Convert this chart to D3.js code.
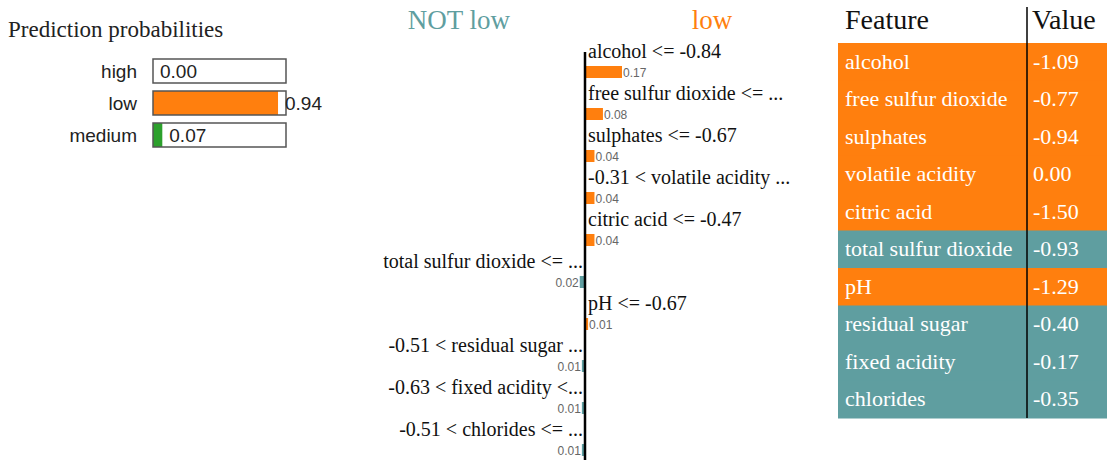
<!DOCTYPE html>
<html>
<head>
<meta charset="utf-8">
<script src="https://cdn.jsdelivr.net/npm/d3@7"></script>
<style>
  html, body { margin: 0; padding: 0; background: #fff; }
  svg { display: block; }
</style>
</head>
<body>
<svg id="chart" width="1109" height="462"></svg>
<script>
// ---- data ----
const classNames = ["high", "low", "medium"];
const classProbs = [0.00, 0.94, 0.07];
const classColors = ["#1f77b4", "#ff7f0e", "#2ca02c"];

const explLabels = [
  "alcohol <= -0.84",
  "free sulfur dioxide <= ...",
  "sulphates <= -0.67",
  "-0.31 < volatile acidity ...",
  "citric acid <= -0.47",
  "total sulfur dioxide <= ...",
  "pH <= -0.67",
  "-0.51 < residual sugar ...",
  "-0.63 < fixed acidity <...",
  "-0.51 < chlorides <= ..."
];
const explWeights = [0.17, 0.08, 0.04, 0.04, 0.04, -0.02, 0.01, -0.01, -0.01, -0.01];

const featureNames = ["alcohol", "free sulfur dioxide", "sulphates", "volatile acidity", "citric acid",
  "total sulfur dioxide", "pH", "residual sugar", "fixed acidity", "chlorides"];
const featureValues = [-1.09, -0.77, -0.94, 0.00, -1.50, -0.93, -1.29, -0.40, -0.17, -0.35];
const featureSigns = [1, 1, 1, 1, 1, -1, 1, -1, -1, -1];

const posClass = "low";
const negClass = "NOT low";

const ORANGE = "#ff7f0e", TEAL = "#5f9ea0";
const SERIF = "'Liberation Serif', 'Times New Roman', serif";
const SANS = "'Liberation Sans', Arial, sans-serif";

const svg = d3.select("#chart");

// ---- Prediction probabilities ----
const pp = svg.append("g");
pp.append("text").attr("x", 8).attr("y", 37)
  .attr("font-family", SERIF).attr("font-size", 23).attr("fill", "#222")
  .text("Prediction probabilities");

const boxX = 153, boxW = 133, boxH = 24;
const px = d3.scaleLinear().domain([0, 1]).range([0, boxW]);
const py = d3.scaleBand().domain(classNames).range([59, 59 + 32 * 3]).paddingInner(0).paddingOuter(0);

classNames.forEach((c, i) => {
  const y = py(c);
  pp.append("rect").attr("x", boxX).attr("y", y).attr("width", px(classProbs[i])).attr("height", boxH)
    .attr("fill", classColors[i]);
  pp.append("rect").attr("x", boxX).attr("y", y).attr("width", boxW).attr("height", boxH)
    .attr("fill", "none").attr("stroke", "#555").attr("stroke-width", 1.5);
  pp.append("text").attr("x", 137).attr("y", y + 19).attr("text-anchor", "end")
    .attr("font-family", SANS).attr("font-size", 19).attr("fill", "#222").text(c);
  pp.append("text").attr("x", boxX + px(classProbs[i]) + 7).attr("y", y + 19)
    .attr("font-family", SANS).attr("font-size", 19).attr("fill", "#222")
    .text(classProbs[i].toFixed(2));
});

// ---- Explanation bars ----
const axisX = 585;
const ex = d3.scaleLinear().domain([-0.17, 0.17]).range([axisX - 36, axisX + 36]);
const ey = d3.scaleBand().domain(d3.range(explLabels.length)).range([66, 66 + 42 * explLabels.length]);
const barH = 12;

const eg = svg.append("g");
eg.append("text").attr("x", 459).attr("y", 29).attr("text-anchor", "middle")
  .attr("font-family", SERIF).attr("font-size", 27).attr("fill", TEAL).text(negClass);
eg.append("text").attr("x", 712).attr("y", 29).attr("text-anchor", "middle")
  .attr("font-family", SERIF).attr("font-size", 27).attr("fill", ORANGE).text(posClass);

explLabels.forEach((lab, i) => {
  const w = explWeights[i];
  const y = ey(i);
  const pos = w > 0;
  const x0 = pos ? axisX + 1 : ex(w) - 1;
  const bw = Math.abs(ex(w) - ex(0));
  eg.append("rect").attr("x", x0).attr("y", y).attr("width", bw).attr("height", barH)
    .attr("fill", pos ? ORANGE : TEAL);
  eg.append("text")
    .attr("x", pos ? axisX + 3 : axisX - 2).attr("y", y - 8)
    .attr("text-anchor", pos ? "start" : "end")
    .attr("font-family", SERIF).attr("font-size", 20).attr("fill", "#111").text(lab);
  eg.append("text")
    .attr("x", pos ? x0 + bw + 1 : x0 - 1).attr("y", y + barH - 1)
    .attr("text-anchor", pos ? "start" : "end")
    .attr("font-family", SANS).attr("font-size", 12).attr("fill", "#666")
    .text(Math.abs(w).toFixed(2));
});
eg.append("line").attr("x1", axisX).attr("x2", axisX).attr("y1", 52).attr("y2", 460)
  .attr("stroke", "#000").attr("stroke-width", 2.5);

// ---- Feature / Value table ----
const tg = svg.append("g");
const tx0 = 838, tx1 = 1107, divX = 1027;
const ty = d3.scaleBand().domain(d3.range(featureNames.length)).range([43, 418]);
featureNames.forEach((f, i) => {
  const y = ty(i);
  tg.append("rect").attr("x", tx0).attr("y", y).attr("width", tx1 - tx0).attr("height", ty.bandwidth() + 0.5)
    .attr("fill", featureSigns[i] > 0 ? ORANGE : TEAL);
  tg.append("text").attr("x", 845).attr("y", y + ty.bandwidth() / 2 + 7)
    .attr("font-family", SERIF).attr("font-size", 22).attr("fill", "#fff").text(f);
  tg.append("text").attr("x", 1033).attr("y", y + ty.bandwidth() / 2 + 7)
    .attr("font-family", SERIF).attr("font-size", 22).attr("fill", "#fff").text(featureValues[i].toFixed(2));
});
tg.append("text").attr("x", 845).attr("y", 29).attr("font-family", SERIF).attr("font-size", 28).attr("fill", "#111").text("Feature");
tg.append("text").attr("x", 1032).attr("y", 29).attr("font-family", SERIF).attr("font-size", 28).attr("fill", "#111").text("Value");
tg.append("line").attr("x1", divX).attr("x2", divX).attr("y1", 7).attr("y2", 418)
  .attr("stroke", "#000").attr("stroke-width", 1.5);
</script>
</body>
</html>
